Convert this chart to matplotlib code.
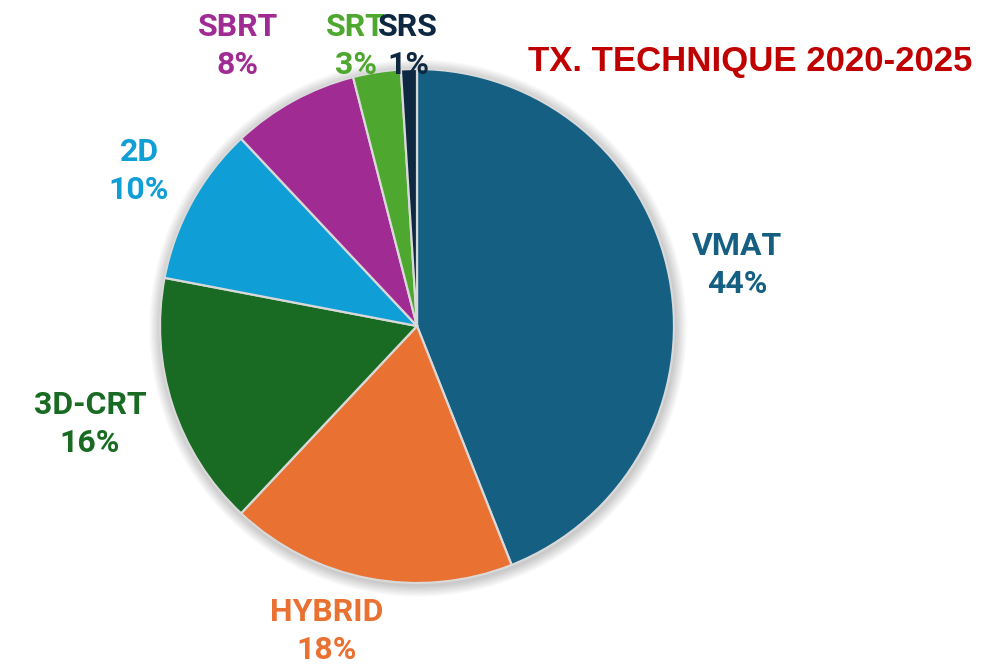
import matplotlib
matplotlib.use("Agg")
import matplotlib.pyplot as plt
from matplotlib.patches import Circle

categories = ["VMAT", "HYBRID", "3D-CRT", "2D", "SBRT", "SRT", "SRS"]
values = [44, 18, 16, 10, 8, 3, 1]
colors = ["#156082", "#E97132", "#196B24", "#0F9ED5", "#A02B93", "#4EA72E", "#0E2841"]
title = "TX. TECHNIQUE 2020-2025"

# label block centres in figure pixels (x from left, y from top)
label_pos = [(737, 265), (327, 631), (90, 424), (139, 171), (238, 46), (356, 46), (408, 46)]

W, H = 999, 670
fig = plt.figure(figsize=(W / 100, H / 100), dpi=100)
cx, cy, r = 417, 326, 257
ax = fig.add_axes([(cx - r) / W, (H - cy - r) / H, 2 * r / W, 2 * r / H])
ax.set_aspect("equal")
ax.axis("off")

# soft shadow
for k in range(1, 10):
    ax.add_patch(Circle((0.004, -0.008), 1.0 + k * 0.005, color="#000000", alpha=0.022,
                        lw=0, zorder=0, clip_on=False))

wedges, _ = ax.pie(values, colors=colors, startangle=90, counterclock=False, radius=1.0,
                   wedgeprops=dict(edgecolor="#D9D9D9", linewidth=1.6), frame=False)
for w in wedges:
    w.set_clip_on(False)
ax.set_xlim(-1, 1)
ax.set_ylim(-1, 1)

for cat, v, col, (px, py) in zip(categories, values, colors, label_pos):
    fig.text(px / W, 1 - py / H, f"{cat}\n{v}%", color=col, fontsize=23, fontweight="bold",
             family=["Roboto", "DejaVu Sans"], ha="center", va="center", linespacing=1.3, zorder=5)

fig.text(750 / W, 1 - 62 / H, title, color="#C00000", fontsize=25, fontweight="bold",
         family=["Liberation Sans", "DejaVu Sans"], ha="center", va="center")

fig.savefig("out.png", dpi=100, facecolor="white")
